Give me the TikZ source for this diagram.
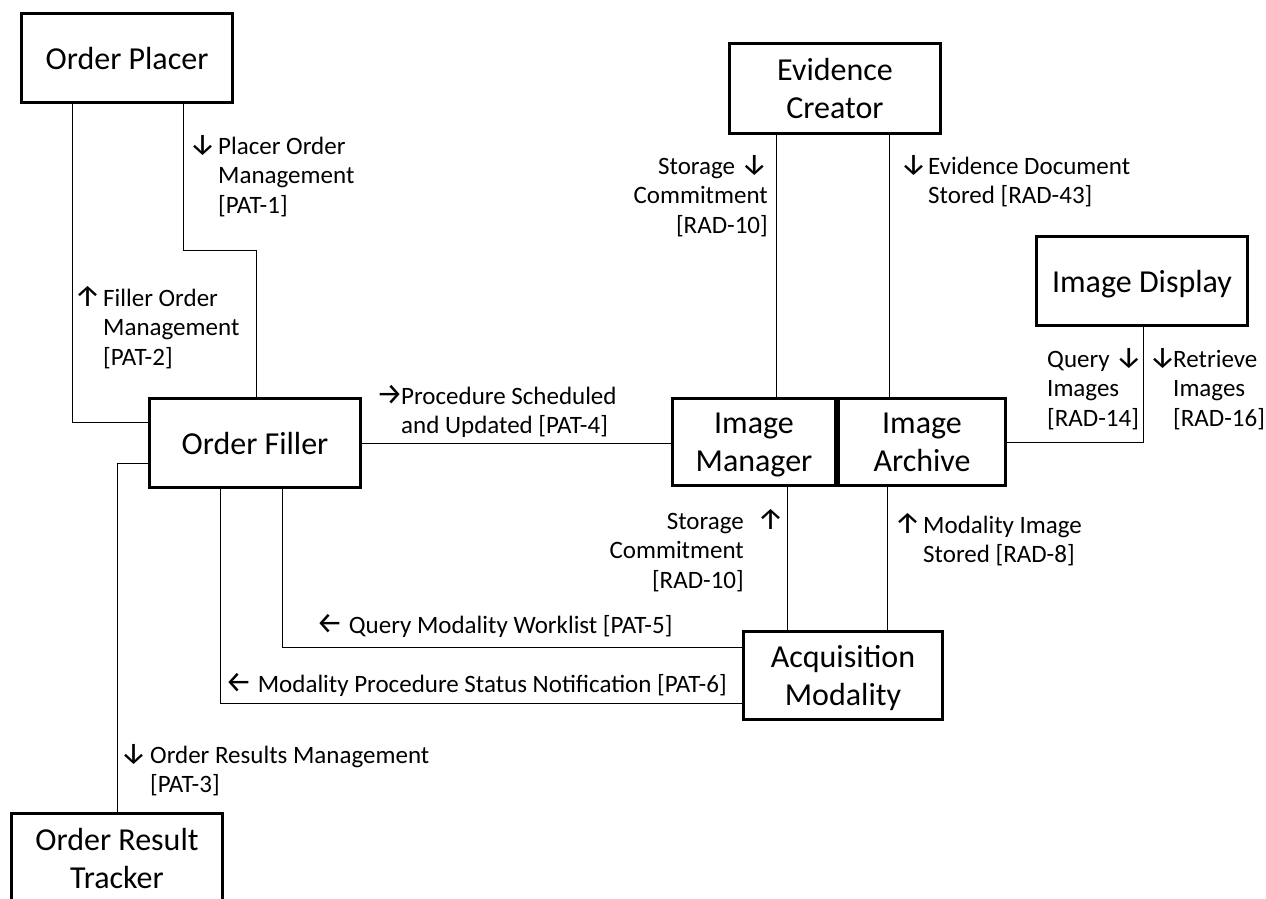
\documentclass[tikz,border=0pt]{standalone}
\usepackage{fontspec}
\setmainfont{Carlito}
\newfontfamily\arrf{Fira Sans}
\newcommand\arrglyph[1]{\smash{\arrf\fontsize{30}{29.5}\selectfont #1}}
\newcommand\dA{{\arrglyph{↓}}}
\newcommand\uA{{\arrglyph{↑}}}
\newcommand\rA{{\arrglyph{→}}}
\newcommand\lA{{\arrglyph{←}}}
\newcommand\lbl[1]{\begin{tabular}[t]{@{}l@{}}#1\end{tabular}}
\newcommand\rlbl[1]{\begin{tabular}[t]{@{}r@{}}#1\end{tabular}}
\begin{document}
\begin{tikzpicture}[x=1pt,y=-1pt,
  box/.style={draw, line width=3pt, minimum width=211pt, minimum height=89pt,
    inner sep=0pt, align=center, font=\fontsize{32}{38}\selectfont, text depth=0pt},
  lab/.style={inner sep=0pt, anchor=base west, font=\fontsize{25}{29.5}\selectfont},
  rlab/.style={lab, anchor=base east},
  conn/.style={line width=1pt}]
\useasboundingbox (0,0) rectangle (1266,899);
\fill[white] (0,0) rectangle (1266,899);

% boxes
\node[box] (op) at (127,58) {Order Placer};
\node[box] (of) at (255,443) {Order Filler};
\node[box, minimum height=90pt] (ort) at (117,858) {Order Result\\Tracker};
\node[box, minimum height=90pt] (ec) at (835,88.5) {Evidence\\Creator};
\node[box, minimum width=163pt, minimum height=87pt] (im) at (754,442) {Image\\Manager};
\node[box, minimum width=167pt, minimum height=87pt] (ia) at (922,442) {Image\\Archive};
\node[box] (id) at (1142,281) {Image Display};
\node[box, minimum width=199pt, minimum height=88pt] (am) at (843,675.5) {Acquisition\\Modality};

% connectors
\draw[conn] (72,0 |- op.south) |- (of.west |- 0,422);
\draw[conn] (183,0 |- op.south) -- (183,250) -| (256,0 |- of.north);
\draw[conn] (of.east) -- (of.east -| im.west);
\draw[conn] (of.west |- 0,463) -| (117,0 |- ort.north);
\draw[conn] (282,0 |- of.south) |- (am.west |- 0,647);
\draw[conn] (220,0 |- of.south) |- (am.west |- 0,703);
\draw[conn] (776,0 |- ec.south) -- (776,0 |- im.north);
\draw[conn] (889,0 |- ec.south) -- (889,0 |- ia.north);
\draw[conn] (787,0 |- im.south) -- (787,0 |- am.north);
\draw[conn] (887,0 |- ia.south) -- (887,0 |- am.north);
\draw[conn] (ia.east) -| (1143,0 |- id.south);

% labels
\node[lab] (a1) at (189,154) {\dA};
\node[lab] (t1) at (218,154) {\lbl{Placer Order\\Management\\{[PAT-1]}}};
\node[lab] (a2) at (74,306) {\uA};
\node[lab] (t2) at (103,306) {\lbl{Filler Order\\Management\\{[PAT-2]}}};
\node[lab] (a3) at (376,404) {\rA};
\node[lab] (t3) at (401,404) {\lbl{Procedure Scheduled\\and Updated [PAT-4]}};
\node[rlab] (t4) at (768,174) {\rlbl{Storage \dA\\Commitment\\{[RAD-10]}}};
\node[lab] (a5) at (900,174) {\dA};
\node[lab] (t5) at (928,174) {\lbl{Evidence Document\\Stored [RAD-43]}};
\node[lab] (t6) at (1047,367) {\lbl{Query \dA\\Images\\{[RAD-14]}}};
\node[lab] (a7) at (1149,367) {\dA};
\node[lab] (t7) at (1173,367) {\lbl{Retrieve\\Images\\{[RAD-16]}}};
\node[rlab] (t8) at (744,529) {\rlbl{Storage\\Commitment\\{[RAD-10]}}};
\node[lab] (a8) at (757,529) {\uA};
\node[lab] (a9) at (894,533) {\uA};
\node[lab] (t9) at (923,533) {\lbl{Modality Image\\Stored [RAD-8]}};
\node[lab] (t10) at (316,633) {\lA\ Query Modality Worklist [PAT-5]};
\node[lab] (t11) at (225,692) {\lA\ Modality Procedure Status Notification [PAT-6]};
\node[lab] (a12) at (120,763) {\dA};
\node[lab] (t12) at (150,763) {\lbl{Order Results Management\\{[PAT-3]}}};
\end{tikzpicture}
\end{document}
